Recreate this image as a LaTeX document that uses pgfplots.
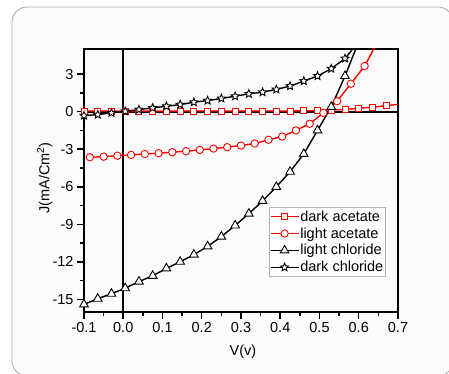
\documentclass[border=0pt]{standalone}
\usepackage{pgfplots}
\pgfplotsset{compat=1.18}
\usepackage{fontspec}
\setmainfont{Liberation Sans}
\pgfdeclareplotmark{ostar}{%
  \pgfpathmoveto{\pgfpointpolar{90}{\pgfplotmarksize}}%
  \pgfpathlineto{\pgfpointpolar{126}{0.45\pgfplotmarksize}}%
  \pgfpathlineto{\pgfpointpolar{162}{\pgfplotmarksize}}%
  \pgfpathlineto{\pgfpointpolar{198}{0.45\pgfplotmarksize}}%
  \pgfpathlineto{\pgfpointpolar{234}{\pgfplotmarksize}}%
  \pgfpathlineto{\pgfpointpolar{270}{0.45\pgfplotmarksize}}%
  \pgfpathlineto{\pgfpointpolar{306}{\pgfplotmarksize}}%
  \pgfpathlineto{\pgfpointpolar{342}{0.45\pgfplotmarksize}}%
  \pgfpathlineto{\pgfpointpolar{18}{\pgfplotmarksize}}%
  \pgfpathlineto{\pgfpointpolar{54}{0.45\pgfplotmarksize}}%
  \pgfpathclose
  \pgfusepathqfillstroke}
\begin{document}
\begin{tikzpicture}[x=1pt,y=1pt]
\useasboundingbox (0,0) rectangle (449,374);
\begin{scope}
\clip (0,0) rectangle (449,374);
\draw[gray!70, line width=0.8pt, fill=gray!3, rounded corners=15pt] (12,-2) rectangle (453,367);
\end{scope}
\begin{axis}[
  at={(84pt,62pt)}, anchor=south west,
  width=314pt, height=263pt, scale only axis,
  xmin=-0.1, xmax=0.7, ymin=-16, ymax=5,
  xtick={-0.1,0,0.1,0.2,0.3,0.4,0.5,0.6,0.7},
  ytick={-15,-12,-9,-6,-3,0,3},
  minor x tick num=1, minor y tick num=1,
  tick pos=left, tick align=outside,
  major tick length=7pt, minor tick length=4pt,
  every tick/.style={black, line width=1.5pt},
  axis line style={line width=2pt},
  /pgf/number format/assume math mode=true,
  ticklabel style={font=\fontsize{14.5}{16}\selectfont},
  xticklabel style={/pgf/number format/.cd, fixed, fixed zerofill, precision=1},
  yticklabel style={/pgf/number format/.cd, fixed, precision=0},
  xlabel={V(v)}, ylabel={J(mA/Cm\textsuperscript{2})},
  label style={font=\fontsize{14.5}{16}\selectfont},
  xlabel style={at={(axis description cs:0.506,-0.151)}, anchor=center},
  ylabel style={at={(axis description cs:-0.125,0.51)}, anchor=center},
  legend style={at={(0.9586,0.134)}, anchor=south east, draw=gray!60,
    font=\fontsize{14.5}{16}\selectfont, row sep=2.5pt,
    inner xsep=0.5pt, inner ysep=2pt,
    nodes={inner xsep=1pt, inner ysep=1.2pt}},
  legend cell align=left,
  legend image code/.code={\draw[mark=none] (0pt,0pt) -- (28pt,0pt);
     \draw plot coordinates {(14pt,0pt)};},
]
\addplot[black, line width=2pt, forget plot] coordinates {(0,-16) (0,5)};
\addplot[black, line width=2pt, forget plot] coordinates {(-0.1,0) (0.7,0)};
% dark acetate
\addplot[red, line width=1.4pt, mark=square*, mark size=3pt,
  mark options={fill=white, line width=0.9pt},
  mark indices={1,2,3,4,5,6,7,8,9,10,11,12,13,14,15,16,17,18,19,20,21,22,23}] coordinates {
(-0.1,0.05) (-0.065,0.05) (-0.03,0.05) (0.005,0.05) (0.04,0.05) (0.075,0.05)
(0.11,0.05) (0.145,0.05) (0.18,0.05) (0.215,0.05) (0.25,0.05) (0.285,0.05)
(0.32,0.05) (0.355,0.05) (0.39,0.05) (0.425,0.05) (0.46,0.06) (0.495,0.08)
(0.53,0.12) (0.565,0.18) (0.6,0.26) (0.635,0.36) (0.67,0.47) (0.7,0.58)};
\addlegendentry{dark acetate}
% light acetate
\addplot[red, line width=1.4pt, mark=*, mark size=3.7pt,
  mark options={fill=white, line width=0.9pt},
  mark indices={1,2,3,4,5,6,7,8,9,10,11,12,13,14,15,16,17,18,19,20,21}] coordinates {
(-0.085,-3.64) (-0.05,-3.60) (-0.015,-3.52) (0.02,-3.46) (0.055,-3.38) (0.09,-3.32)
(0.125,-3.24) (0.16,-3.16) (0.195,-3.06) (0.23,-2.95) (0.265,-2.84) (0.30,-2.71)
(0.335,-2.55) (0.37,-2.25) (0.405,-1.99) (0.44,-1.50) (0.475,-0.97) (0.51,-0.10)
(0.545,0.83) (0.58,2.23) (0.615,3.64) (0.645,5.4)};
\addlegendentry{light acetate}
% light chloride
\addplot[black, line width=1.4pt, mark=triangle*, mark size=5pt,
  mark options={fill=white, line width=0.9pt},
  mark indices={1,2,3,4,5,6,7,8,9,10,11,12,13,14,15,16,17,18,19,20}] coordinates {
(-0.1,-15.39) (-0.065,-14.94) (-0.03,-14.54) (0.005,-14.10) (0.04,-13.57)
(0.075,-13.11) (0.11,-12.52) (0.145,-11.99) (0.18,-11.42) (0.215,-10.76)
(0.25,-9.98) (0.285,-9.09) (0.32,-8.15) (0.355,-7.13) (0.39,-6.01)
(0.425,-4.80) (0.46,-3.38) (0.495,-1.50) (0.53,0.38) (0.565,2.84) (0.6,5.6)};
\addlegendentry{light chloride}
% dark chloride
\addplot[black, line width=1.4pt, mark=ostar, mark size=4.2pt,
  mark options={fill=white, line width=0.9pt},
  mark indices={1,2,3,4,5,6,7,8,9,10,11,12,13,14,15,16,17,18,19,20}] coordinates {
(-0.1,-0.32) (-0.065,-0.24) (-0.03,-0.10) (0.005,0.02) (0.04,0.16)
(0.075,0.30) (0.11,0.43) (0.145,0.56) (0.18,0.75) (0.215,0.88)
(0.25,1.05) (0.285,1.23) (0.32,1.42) (0.355,1.55) (0.39,1.77)
(0.425,2.04) (0.46,2.44) (0.495,2.84) (0.53,3.43) (0.565,4.24) (0.6,5.6)};
\addlegendentry{dark chloride}
\end{axis}
\end{tikzpicture}
\end{document}
